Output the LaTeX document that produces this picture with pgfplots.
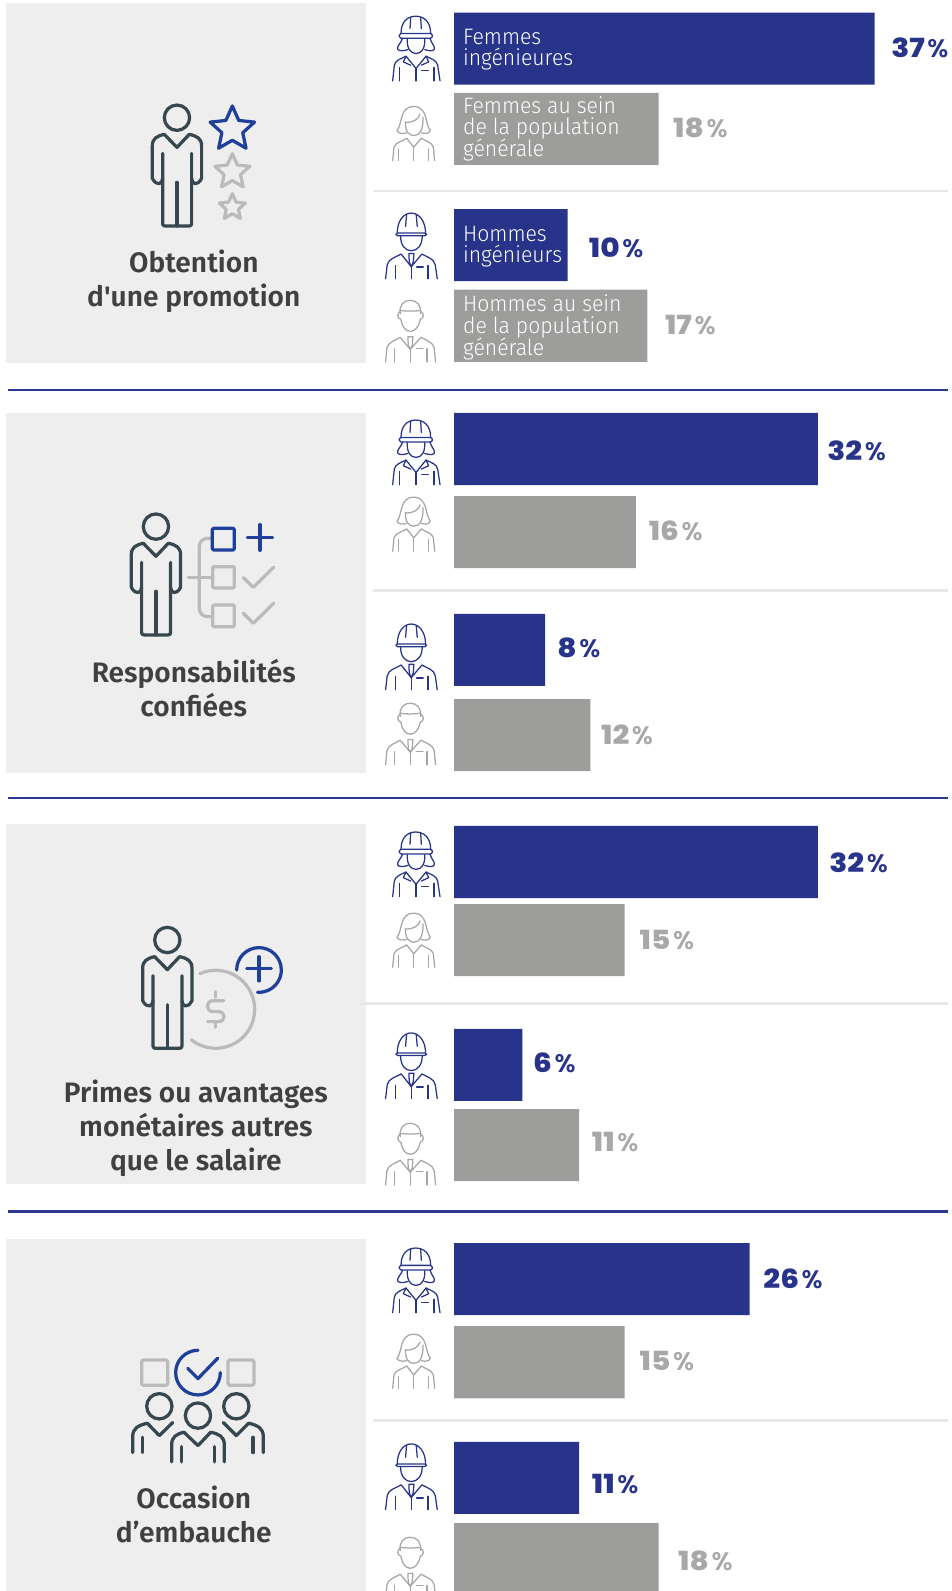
\documentclass[border=0pt]{standalone}
\usepackage{fontspec}
\usepackage{pgfplots}
\pgfplotsset{compat=1.18}
\newfontfamily\titlefont{Fira Sans SemiBold}
\newfontfamily\barfont[FakeStretch=0.95]{Fira Sans Light}
\newfontfamily\pctfont[FakeStretch=1.12]{Poppins ExtraBold}
\newfontfamily\pctsign{Poppins SemiBold}
\definecolor{navy}{HTML}{28348A}
\definecolor{barg}{HTML}{9D9D9C}
\definecolor{pctg}{HTML}{A8A8A8}
\definecolor{panel}{HTML}{EEEEEE}
\definecolor{rulel}{HTML}{E8E8E8}
\definecolor{inkd}{HTML}{37474F}
\definecolor{inkb}{HTML}{1F409A}
\definecolor{inkg}{HTML}{BBBBBB}
\definecolor{titlec}{HTML}{404040}
\definecolor{linem}{HTML}{2B3A90}
\definecolor{lineg}{HTML}{A6A6A6}

% text helpers, picture units
\newcommand{\paneltitle}[3]{\node[anchor=base,font=\titlefont\fontsize{13.85pt}{16pt}\selectfont,text=titlec,inner sep=0pt] at (#1,#2) {#3};}
\newcommand{\barlabel}[2]{\node[anchor=base west,font=\barfont\fontsize{11pt}{13pt}\selectfont,text=white,inner sep=0pt] at (456,#1) {#2};}
\newcommand{\pct}[4]{\node[anchor=base west,text=#1,inner sep=0pt] at (#2,#3+1.5) {\fontsize{13pt}{15pt}\selectfont\pctfont #4\hspace{1.3pt}\pctsign\fontsize{12.5pt}{15pt}\selectfont\%};}

% big icons: one unit = one zoom pixel
\tikzset{bigicon/.style={x=0.16425pt,y=-0.16425pt,line width=1.6pt,line cap=round,line join=round},
  smallicon/.style={x=0.16425pt,y=-0.16425pt,line width=0.62pt,line cap=round,line join=round}}
\newcommand{\bigperson}[2]{%
  \begin{scope}[shift={(#1,#2)},bigicon,draw=inkd]
    \draw (0,0) circle[radius=38];
    \draw (-43,107) -- (-43,182) .. controls (-43,198) and (-60,208) .. (-74,182) -- (-74,85)
      .. controls (-74,62) and (-60,55) .. (-38,50) -- (0,89) -- (37,50)
      .. controls (60,55) and (74,62) .. (74,85) -- (74,182) .. controls (60,208) and (44,198) .. (44,182) -- (44,107);
    \draw (-43,182) -- (-43,318) .. controls (-43,323) and (-40,325) .. (-35,325) -- (36,325)
      .. controls (41,325) and (44,323) .. (44,318) -- (44,182);
    \draw (0,194) -- (0,325);
  \end{scope}}
\newcommand{\starshape}[4]{\draw[#4]
  (#1,#2) +(-90:#3) -- +(-54:0.47*#3) -- +(-18:#3) -- +(18:0.47*#3) -- +(54:#3)
  -- +(90:0.47*#3) -- +(126:#3) -- +(162:0.47*#3) -- +(198:#3) -- +(234:0.47*#3) -- cycle;}

\newcommand{\womanhelmet}{%
  \draw (63,70) .. controls (63,35) and (82,18) .. (107,18) .. controls (132,18) and (152,35) .. (152,70);
  \draw[rounded corners=0.8pt] (58,70) rectangle (157,84);
  \draw (92,22) -- (90,55) (122,22) -- (124,55);
  \draw (68,84) .. controls (62,100) and (50,108) .. (53,117) .. controls (58,124) and (72,122) .. (84,118);
  \draw (150,84) .. controls (154,100) and (166,108) .. (163,117) .. controls (158,124) and (146,122) .. (134,118);
  \draw (82,86) .. controls (80,115) and (92,130) .. (108,130) .. controls (124,130) and (136,115) .. (134,86);
  \draw (38,212) -- (43,165) .. controls (46,150) and (62,146) .. (78,138) -- (108,175) -- (138,138)
    .. controls (154,146) and (170,150) .. (173,165) -- (180,212);
  \draw (78,138) -- (70,155) -- (92,165) (138,138) -- (146,155) -- (124,165);
  \draw (108,175) -- (108,212) (58,172) -- (58,212) (162,172) -- (162,212) (125,181) -- (145,181);}
\newcommand{\womanplain}{%
  \draw (55,365) .. controls (72,345) and (62,293) .. (105,293) .. controls (148,293) and (138,345) .. (155,365)
    .. controls (150,375) and (140,375) .. (128,372);
  \draw (55,365) .. controls (60,375) and (72,375) .. (84,372);
  \draw (80,340) .. controls (80,370) and (92,380) .. (106,380) .. controls (124,380) and (134,360) .. (133,325);
  \draw (80,340) .. controls (105,342) and (120,330) .. (124,316);
  \draw (42,455) -- (46,415) .. controls (50,400) and (70,398) .. (84,388) -- (105,415) -- (128,388)
    .. controls (142,398) and (160,400) .. (164,415) -- (168,455);
  \draw (105,415) -- (105,455) (60,420) -- (60,455) (150,420) -- (150,455);}
\newcommand{\manhelmet}{%
  \draw (50,85) .. controls (50,50) and (68,25) .. (92,25) .. controls (116,25) and (135,50) .. (135,85);
  \draw[rounded corners=0.8pt] (46,85) rectangle (138,93);
  \draw (78,30) -- (75,65) (107,30) -- (110,65);
  \draw (60,94) .. controls (60,122) and (74,138) .. (92,138) .. controls (110,138) and (125,122) .. (125,94);
  \draw (15,222) -- (20,180) .. controls (24,162) and (44,158) .. (62,148) -- (92,186) -- (124,148)
    .. controls (142,158) and (160,162) .. (164,180) -- (170,222);
  \draw (85,146) -- (100,146) -- (98,172) -- (92,186) -- (86,172) -- cycle;
  \draw (92,186) -- (92,222) (45,182) -- (45,222) (142,182) -- (142,222) (108,187) -- (128,187);}
\newcommand{\manplain}{%
  \draw (62,325) .. controls (58,300) and (72,285) .. (92,285) .. controls (112,285) and (126,300) .. (123,325);
  \draw (62,315) .. controls (76,318) and (110,318) .. (123,315);
  \draw (62,318) .. controls (52,322) and (52,340) .. (64,342) .. controls (68,365) and (78,378) .. (92,378)
    .. controls (106,378) and (118,365) .. (122,342) .. controls (134,340) and (134,322) .. (123,318);
  \draw (18,470) -- (22,428) .. controls (26,410) and (46,406) .. (62,396) -- (92,432) -- (124,396)
    .. controls (142,406) and (160,410) .. (164,428) -- (168,470);
  \draw (85,394) -- (100,394) -- (98,420) -- (92,432) -- (86,420) -- cycle;
  \draw (92,432) -- (92,470) (45,430) -- (45,470) (142,430) -- (142,470) (110,430) -- (130,430);}
% #1 left, #2 top in picture units, #3 the drawing, #4 colour, #5/#6 local left/top
\newcommand{\smallfig}[6]{\begin{scope}[shift={(#1,#2)},smallicon,shift={(-#5,-#6)},draw=#4]#3\end{scope}}
\newcommand{\rowicons}[6]{%
  \smallfig{#1}{#2}{\womanhelmet}{navy}{38}{15}
  \smallfig{#1}{#3}{\womanplain}{lineg}{42}{293}
  \smallfig{#4}{#5}{\manhelmet}{navy}{15}{25}
  \smallfig{#4}{#6}{\manplain}{lineg}{18}{285}}

\begin{document}
\begin{tikzpicture}
\path[use as bounding box] (0,0) rectangle (469.1pt,-784pt);

\begin{scope}[x=0.5pt,y=-0.5pt]
  % panels and rules
  \fill[panel] (6,3) rectangle (361,358);
  \fill[panel] (6,407) rectangle (361,762);
  \fill[panel] (6,812) rectangle (361,1167);
  \fill[panel] (6,1221) rectangle (361,1568);
  \foreach \yy in {384,786.5,1194} \draw[linem,line width=1.1pt] (8,\yy) -- (934,\yy);
  \foreach \yy in {188,582,1400} \draw[rulel,line width=1.2pt] (368,\yy) -- (934,\yy);
  \draw[rulel,line width=1.2pt] (354,989) -- (934,989);
\end{scope}

\begin{axis}[
    at={(0,0)}, anchor=north west,
    hide axis, scale only axis,
    width=469.1pt, height=784pt,
    xmin=-39.955, xmax=43.81,
    ymin=0, ymax=1568,
    y dir=reverse,
  ]
  \addplot[xbar, bar width=35.5pt, bar shift=0pt, fill=navy, draw=none]
    coordinates {(37,48) (10,241.5) (32,442.5) (8,640.5) (32,849.5) (6,1049.5) (26,1260.5) (11,1456.5)};
  \addplot[xbar, bar width=35.5pt, bar shift=0pt, fill=barg, draw=none]
    coordinates {(18,127) (17,321) (16,524.5) (12,724.5) (15,926.5) (11,1128.5) (15,1342.5) (18,1536.5)};
\end{axis}

\begin{scope}[x=0.5pt,y=-0.5pt]
  % panel titles
  \paneltitle{191}{269}{Obtention}
  \paneltitle{191}{302}{d'une promotion}
  \paneltitle{191}{673}{Responsabilités}
  \paneltitle{191}{706}{confiées}
  \paneltitle{193}{1087}{Primes ou avantages}
  \paneltitle{193}{1120}{monétaires autres}
  \paneltitle{193}{1154}{que le salaire}
  \paneltitle{191}{1487}{Occasion}
  \paneltitle{191}{1520}{d’embauche}

  % labels inside the first group of bars
  \barlabel{44}{Femmes}
  \barlabel{65}{ingénieures}
  \barlabel{112}{Femmes au sein}
  \barlabel{133}{de la population}
  \barlabel{154}{générale}
  \barlabel{238}{Hommes}
  \barlabel{259}{ingénieurs}
  \barlabel{307}{Hommes au sein}
  \barlabel{329}{de la population}
  \barlabel{350}{générale}

  % values
  \pct{navy}{878}{55}{37}
  \pct{pctg}{663}{134}{18}
  \pct{navy}{580}{252}{10}
  \pct{pctg}{655}{328}{17}
  \pct{navy}{815}{452}{32}
  \pct{pctg}{639}{531}{16}
  \pct{navy}{549}{646}{8}
  \pct{pctg}{592}{732}{12}
  \pct{navy}{817}{858}{32}
  \pct{pctg}{630}{934}{15}
  \pct{navy}{525}{1055}{6}
  \pct{pctg}{583}{1133}{11}
  \pct{navy}{752}{1268}{26}
  \pct{pctg}{630}{1349}{15}
  \pct{navy}{583}{1470}{11}
  \pct{pctg}{668}{1546}{18}

  % small people
  \rowicons{387}{15}{105}{380}{210}{296}
  \rowicons{387}{413}{490}{380}{615}{693}
  \rowicons{387}{819}{900}{380}{1018}{1107}
  \rowicons{387}{1229}{1315}{380}{1423}{1515}

  % promotion icon
  \bigperson{174.4}{116}
  \begin{scope}[shift={(59.13,88.7)},bigicon]
    \starshape{517}{118}{70}{draw=inkb}
    \starshape{517}{246}{55}{draw=inkg}
    \starshape{517}{352}{41}{draw=inkg}
  \end{scope}

  % responsibilities icon
  \bigperson{153.7}{519}
  \begin{scope}[shift={(59.13,492.75)},bigicon]
    \draw[inkg,rounded corners=4pt] (457,115) -- (418,115) -- (418,350) -- (457,350);
    \draw[inkg] (385,232) -- (458,232);
    \draw[inkg,rounded corners=0.6pt] (458,200) rectangle (523,264);
    \draw[inkg,rounded corners=0.6pt] (458,315) rectangle (523,380);
    \draw[inkg] (550,233) -- (580,262) -- (641,202);
    \draw[inkg] (550,340) -- (580,370) -- (641,310);
    \draw[inkb,rounded corners=0.6pt] (457,85) rectangle (523,150);
    \draw[inkb] (562,112) -- (638,112) (600,74) -- (600,151);
  \end{scope}

  % bonus icon
  \bigperson{164.9}{926.4}
  \begin{scope}[shift={(49.28,896.8)},bigicon]
    \draw[inkg] (497,298) ++(-114:117) arc[start angle=-114,end angle=128.7,radius=117];
    \draw[inkg] (522,272) -- (490,272) .. controls (466,272) and (466,305) .. (490,305) -- (505,305)
      .. controls (528,305) and (528,335) .. (505,335) -- (473,335);
    \draw[inkg] (497,245) -- (497,262) (497,335) -- (497,352);
    \draw[inkb] (627,180) ++(180:67) arc[start angle=-180,end angle=94,radius=67];
    \draw[inkb] (590,176) -- (664,176) (627,140) -- (627,213);
  \end{scope}

  % hiring icon
  \begin{scope}[shift={(59.13,1310.7)},bigicon]
    \draw[inkg,rounded corners=1pt] (245,90) rectangle (323,166);
    \draw[inkg,rounded corners=1pt] (504,90) rectangle (582,166);
    \draw[inkb] (414,128) ++(-90:67) arc[start angle=-90,end angle=-360,radius=67];
    \draw[inkb] (383,115) -- (414,146) -- (473,85);
    \draw[inkd] (298,229) circle[radius=38] (414,257) circle[radius=38] (529,229) circle[radius=38];
    \draw[inkd] (338,278) -- (298,317) -- (262,280) .. controls (235,286) and (218,295) .. (218,320) -- (218,368);
    \draw[inkd] (248,322) -- (248,368);
    \draw[inkd] (490,278) -- (529,317) -- (566,280) .. controls (593,286) and (610,295) .. (610,320) -- (610,368);
    \draw[inkd] (579,322) -- (579,368);
    \draw[inkd] (335,396) -- (335,345) .. controls (335,320) and (350,312) .. (372,307) -- (414,347) -- (452,307)
      .. controls (478,312) and (493,320) .. (493,345) -- (493,396);
    \draw[inkd] (364,350) -- (364,396) (464,350) -- (464,396);
  \end{scope}
\end{scope}
\end{tikzpicture}
\end{document}
